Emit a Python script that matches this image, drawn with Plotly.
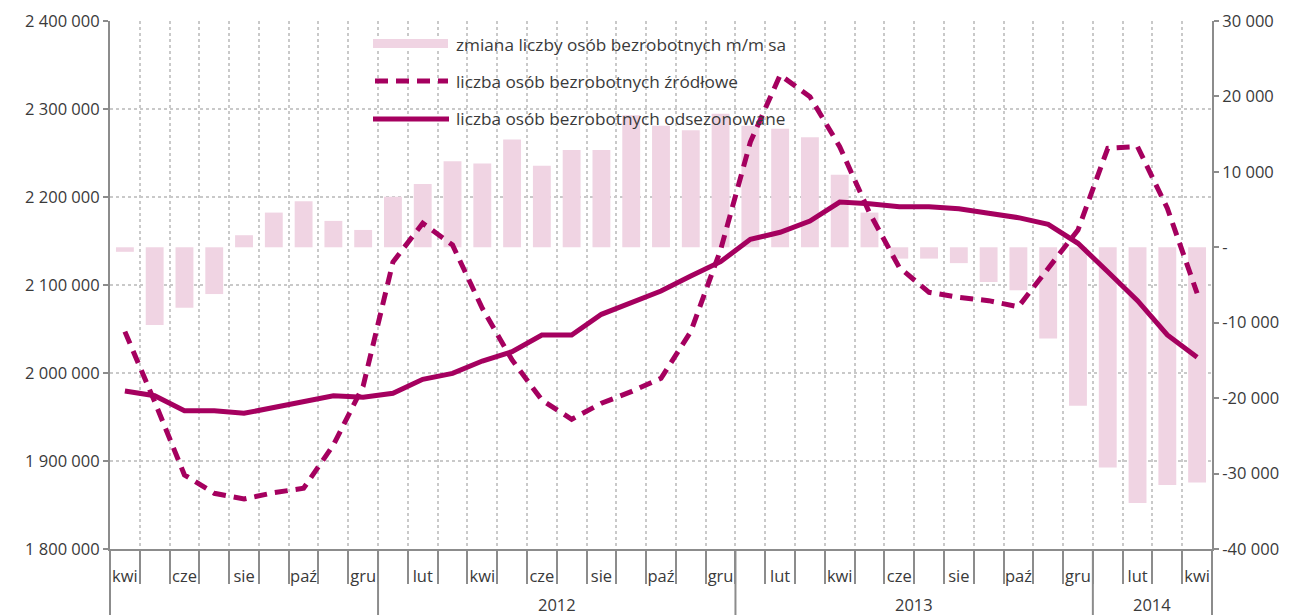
import plotly.graph_objects as go

# ---- data ----
years = [2011] * 9 + [2012] * 12 + [2013] * 12 + [2014] * 4
months = ['kwi', 'maj', 'cze', 'lip', 'sie', 'wrz', 'paź', 'lis', 'gru',
          'sty', 'lut', 'mar', 'kwi', 'maj', 'cze', 'lip', 'sie', 'wrz', 'paź', 'lis', 'gru',
          'sty', 'lut', 'mar', 'kwi', 'maj', 'cze', 'lip', 'sie', 'wrz', 'paź', 'lis', 'gru',
          'sty', 'lut', 'mar', 'kwi']

# monthly change, seasonally adjusted (right axis)
zmiana_mm_sa = [-600, -10300, -8000, -6200, 1600, 4600, 6100, 3500, 2300,
                6700, 8400, 11400, 11100, 14300, 10800, 12900, 12900, 17500, 16100, 15500, 17700,
                16100, 15700, 14600, 9600, 4600, -1500, -1500, -2100, -4600, -5700, -12100, -21000,
                -29200, -33900, -31500, -31200]

# unemployed, not seasonally adjusted (left axis)
bezrobotni_zrodlowe = [2047000, 1967400, 1884100, 1863300, 1856800, 1864000, 1869000, 1918200, 1985200,
                       2126100, 2170100, 2145500, 2073500, 2014800, 1969300, 1947400, 1965600, 1978800,
                       1994000, 2047000, 2139800,
                       2262400, 2338600, 2314000, 2257200, 2182000, 2120000, 2091700, 2086000, 2082200,
                       2075300, 2118900, 2162500,
                       2255300, 2257200, 2187200, 2090600]

# unemployed, seasonally adjusted (left axis)
bezrobotni_sa = [1979500, 1974200, 1957200, 1957200, 1954200, 1961000, 1968500, 1974200, 1972400,
                 1976900, 1992800, 1999600, 2013600, 2024200, 2043200, 2043200, 2066700, 2079200,
                 2093200, 2110200, 2126500,
                 2151900, 2159900, 2172700, 2194300, 2192400, 2189000, 2189000, 2186700, 2181500,
                 2176500, 2169000, 2147400,
                 2115100, 2082200, 2043200, 2017800]

series_names = ['zmiana liczby osób bezrobotnych m/m sa',
                'liczba osób bezrobotnych źródłowe',
                'liczba osób bezrobotnych odsezonowane']

right_ticks = [-40000, -30000, -20000, -10000, 0, 10000, 20000, 30000]
right_ticktext = ['-40 000', '-30 000', '-20 000', '-10 000', '-', '10 000', '20 000', '30 000']

# ---- styling ----
BAR_C = '#f0d4e3'
LINE_C = '#a5005f'
AX_C = '#8c8c8c'
GRID_C = '#c9c9c9'
TXT_C = '#3a3a3a'
FONT = 'Open Sans'
FS = 16.5

cats = [f'{m} {y}' for m, y in zip(months, years)]
ticktext = [m if i % 2 == 0 else '' for i, m in enumerate(months)]

W, H = 1291, 615
OFF = 8  # page body margin offset
# plot area in screen pixels
PL, PR, PT, PB = 110, 1212, 21, 549
PW, PH = PR - PL, PB - PT
ML, MT = PL - OFF, PT - OFF
MR, MB = W - (PR - OFF), H - (PB - OFF)


def fx(px):
    return (px - PL) / PW


def fy(py):
    return (PB - py) / PH


fig = go.Figure()
fig.add_trace(go.Bar(x=cats, y=zmiana_mm_sa, yaxis='y', marker_color=BAR_C,
                     marker_line_width=0, name=series_names[0]))
fig.add_trace(go.Scatter(x=cats, y=bezrobotni_zrodlowe, yaxis='y2', mode='lines',
                         line=dict(color=LINE_C, width=5, dash='13px,8px'), name=series_names[1]))
fig.add_trace(go.Scatter(x=cats, y=bezrobotni_sa, yaxis='y2', mode='lines',
                         line=dict(color=LINE_C, width=5), name=series_names[2]))

shapes = []
annotations = []

# legend (manual)
leg_y = [44, 81, 119]
shapes.append(dict(type='rect', xref='paper', yref='paper', x0=fx(373), x1=fx(448),
                   y0=fy(48), y1=fy(39), fillcolor=BAR_C, line_width=0))
shapes.append(dict(type='line', xref='paper', yref='paper', x0=fx(375), x1=fx(448),
                   y0=fy(leg_y[1]), y1=fy(leg_y[1]), line=dict(color=LINE_C, width=5, dash='13px,8px')))
shapes.append(dict(type='line', xref='paper', yref='paper', x0=fx(373), x1=fx(449),
                   y0=fy(leg_y[2]), y1=fy(leg_y[2]), line=dict(color=LINE_C, width=5)))
for name, ly in zip(series_names, leg_y):
    annotations.append(dict(xref='paper', yref='paper', x=fx(454), y=fy(ly), text=name,
                            showarrow=False, xanchor='left', yanchor='middle',
                            font=dict(family=FONT, size=17.2, color=TXT_C)))

# year group separators and labels
year_list = sorted(set(years))
start = 0
for yr in year_list:
    n = years.count(yr)
    end = start + n
    if start > 0:
        shapes.append(dict(type='line', xref='x', yref='paper', x0=start - 0.5, x1=start - 0.5,
                           y0=0, y1=fy(H), line=dict(color=AX_C, width=2)))
    if yr != 2011:
        annotations.append(dict(xref='x', yref='paper', x=(start + end - 1) / 2, y=fy(604),
                                text=str(yr), showarrow=False, yanchor='middle',
                                font=dict(family=FONT, size=FS, color=TXT_C)))
    start = end
for ex in (0, 1):
    shapes.append(dict(type='line', xref='paper', yref='paper', x0=ex, x1=ex,
                       y0=0, y1=fy(H), line=dict(color=AX_C, width=2)))

fig.update_layout(
    width=W, height=H,
    margin=dict(l=ML, r=MR, t=MT, b=MB, autoexpand=False),
    paper_bgcolor='white', plot_bgcolor='white',
    separators=', ',
    showlegend=False,
    bargap=0.4,
    font=dict(family=FONT, size=FS, color=TXT_C),
    xaxis=dict(type='category', range=[-0.5, len(cats) - 0.5], automargin=False,
               tickmode='array', tickvals=cats, ticktext=ticktext, tickangle=0,
               tickson='boundaries', ticks='outside', ticklen=33, tickwidth=2, tickcolor=AX_C,
               ticklabelstandoff=11,
               showgrid=True, gridcolor=GRID_C, griddash='dot', gridwidth=1.5,
               showline=True, linecolor=AX_C, linewidth=2,
               tickfont=dict(family=FONT, size=FS, color=TXT_C)),
    yaxis=dict(side='right', range=[-40000, 30000], tickmode='array', automargin=False,
               tickvals=right_ticks, ticktext=right_ticktext,
               showgrid=False, zeroline=False, ticks='outside', ticklen=5, tickwidth=2,
               tickcolor=AX_C, showline=True, linecolor=AX_C, linewidth=2,
               tickfont=dict(family=FONT, size=FS, color=TXT_C)),
    yaxis2=dict(side='left', overlaying='y', range=[1800000, 2400000], dtick=100000,
                automargin=False,
                tickformat=',d', showgrid=True, gridcolor=GRID_C, griddash='dot', gridwidth=1.5,
                zeroline=False, ticks='outside', ticklen=5, tickwidth=2, tickcolor=AX_C,
                showline=True, linecolor=AX_C, linewidth=2,
                tickfont=dict(family=FONT, size=FS, color=TXT_C)),
    shapes=shapes,
    annotations=annotations,
)

fig.write_html('out.html')
